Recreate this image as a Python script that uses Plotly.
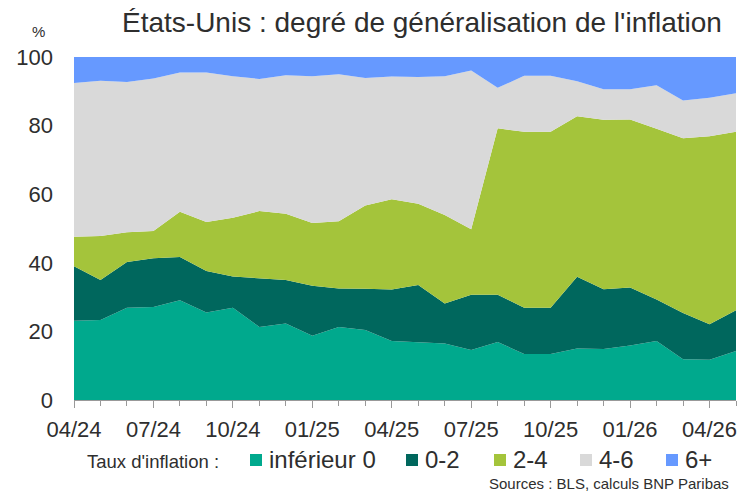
import plotly.graph_objects as go

months = ["04/24","05/24","06/24","07/24","08/24","09/24","10/24","11/24","12/24",
          "01/25","02/25","03/25","04/25","05/25","06/25","07/25","08/25","09/25",
          "10/25","11/25","12/25","01/26","02/26","03/26","04/26","05/26"]
tick_labels = ["04/24","07/24","10/24","01/25","04/25","07/25","10/25","01/26","04/26"]

inferieur_0 = [23.1,23.3,26.9,27.1,29.1,25.5,26.9,21.3,22.3,18.7,21.3,20.4,17.2,
               16.9,16.5,14.6,16.9,13.4,13.4,15.0,14.9,15.9,17.2,11.9,11.7,14.3]
de_0_a_2 = [15.9,11.7,13.3,14.2,12.6,12.1,9.1,14.1,12.7,14.6,11.2,12.0,15.0,
            16.6,11.6,16.1,13.8,13.5,13.5,20.9,17.4,16.9,12.1,13.5,10.4,11.9]
de_2_a_4 = [8.6,12.8,8.7,8.0,13.2,14.3,17.1,19.7,19.3,18.3,19.6,24.3,26.3,
            23.7,25.8,19.1,48.5,51.3,51.3,46.8,49.4,49.0,49.8,50.9,54.8,52.0]
de_4_a_6 = [44.8,45.3,43.8,44.4,40.6,43.6,41.3,38.5,40.4,42.8,42.9,37.2,35.8,
            37.0,40.5,46.3,11.8,16.3,16.3,10.2,8.9,8.8,12.7,11.0,11.2,11.2]
plus_6 = [7.6,6.9,7.3,6.3,4.5,4.5,5.6,6.4,5.3,5.6,5.0,6.1,5.7,
          5.8,5.6,3.9,9.0,5.5,5.5,7.1,9.4,9.4,8.2,12.7,11.9,10.6]

series_names = ["inférieur 0", "0-2", "2-4", "4-6", "6+"]
series_values = [inferieur_0, de_0_a_2, de_2_a_4, de_4_a_6, plus_6]
colors = ["#00A98D", "#00675D", "#A4C43B", "#D9D9D9", "#6699FF"]

FONT = "Liberation Sans, Arial, sans-serif"
TXT = "#2e2e2e"

x_idx = list(range(len(months)))
tick_idx = [months.index(t) for t in tick_labels]

fig = go.Figure()
for name, vals, col in zip(series_names, series_values, colors):
    fig.add_trace(go.Scatter(
        x=x_idx, y=vals, name=name, mode="lines",
        line=dict(width=0, color=col), fillcolor=col,
        stackgroup="one", showlegend=False, hoverinfo="skip"))

W, H = 744, 492
L, R, T, B = 74, 8, 57, 92
pw, ph = W - L - R, H - T - B

def px(xp):
    return (xp - L) / pw

def py(yp):
    return (H - B - yp) / ph

fig.update_layout(
    width=W, height=H,
    margin=dict(l=L, r=R, t=T, b=B),
    paper_bgcolor="white", plot_bgcolor="white",
    font=dict(family=FONT, color=TXT),
    showlegend=False,
    xaxis=dict(
        range=[0, len(months) - 1],
        tickmode="array", tickvals=tick_idx, ticktext=tick_labels,
        ticks="outside", ticklen=7, tickcolor="#999999", tickwidth=1,
        minor=dict(tickmode="array", tickvals=x_idx, ticks="outside",
                   ticklen=5, tickcolor="#999999", tickwidth=1),
        showline=True, linecolor="#999999", linewidth=1,
        showgrid=False, zeroline=False,
        ticklabelstandoff=3,
        tickfont=dict(size=22, color=TXT, family=FONT),
        fixedrange=True),
    yaxis=dict(
        range=[0, 100], tickmode="array", tickvals=[0, 20, 40, 60, 80, 100],
        showgrid=False, zeroline=False, showline=False, ticks="",
        ticklabelstandoff=20,
        tickfont=dict(size=22, color=TXT, family=FONT),
        fixedrange=True),
)

annotations = [
    dict(text="États-Unis : degré de généralisation de l'inflation",
         x=px(422), y=py(22), xanchor="center", yanchor="middle",
         font=dict(size=28, color=TXT, family=FONT)),
    dict(text="%", x=px(38), y=py(32), xanchor="center", yanchor="middle",
         font=dict(size=15, color=TXT, family=FONT)),
    dict(text="Taux d'inflation :", x=px(85), y=py(461), xanchor="left", yanchor="middle",
         font=dict(size=18.5, color=TXT, family=FONT)),
    dict(text="Sources : BLS, calculs BNP Paribas", x=px(731), y=py(483),
         xanchor="right", yanchor="middle",
         font=dict(size=15, color=TXT, family=FONT)),
]
legend_sq_x = [250, 406, 494, 580, 666]
shapes = []
for name, col, sx in zip(series_names, colors, legend_sq_x):
    shapes.append(dict(type="rect", xref="paper", yref="paper",
                       x0=px(sx), x1=px(sx + 12), y0=py(466), y1=py(454),
                       fillcolor=col, line=dict(width=0)))
    annotations.append(dict(text=name, x=px(sx + 17), y=py(459),
                            xanchor="left", yanchor="middle",
                            font=dict(size=24, color=TXT, family=FONT)))
for a in annotations:
    a.update(xref="paper", yref="paper", showarrow=False)

fig.update_layout(annotations=annotations, shapes=shapes)
fig.write_html("out.html", config={"displayModeBar": False},
               post_script="document.body.style.margin='0';document.body.style.padding='0';document.body.style.overflow='hidden';")
